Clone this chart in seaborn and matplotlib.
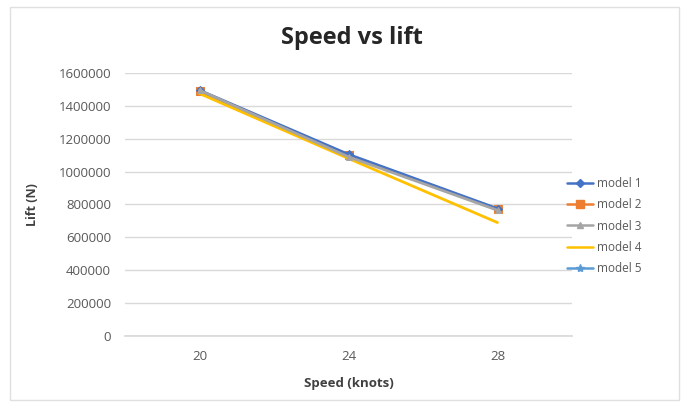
import matplotlib
matplotlib.use("Agg")
import matplotlib.pyplot as plt
import seaborn as sns
import pandas as pd
from matplotlib.lines import Line2D

speeds = ["20", "24", "28"]
models = ["model 1", "model 2", "model 3", "model 4", "model 5"]
model1 = [1495000, 1105000, 775000]
model2 = [1490000, 1100000, 770000]
model3 = [1495000, 1090000, 765000]
model4 = [1475000, 1080000, 690000]
model5 = [1490000, 1100000, 770000]
yticks = [0, 200000, 400000, 600000, 800000, 1000000, 1200000, 1400000, 1600000]

colors = ["#4472C4", "#ED7D31", "#A5A5A5", "#FFC000", "#5B9BD5"]
markers = ["D", "s", "^", "", "*"]
msizes = [4, 6, 5, 0, 6]
draw_order = [4, 1, 0, 3, 2]

rows = []
for name, vals in zip(models, [model1, model2, model3, model4, model5]):
    for i, (s, v) in enumerate(zip(speeds, vals)):
        rows.append({"pos": i, "speed": s, "lift": v, "model": name})
df = pd.DataFrame(rows)

sns.set_theme(style="white")
plt.rcParams["font.family"] = ["Open Sans", "DejaVu Sans"]

fig = plt.figure(figsize=(6.89, 4.04), dpi=100)
ax = fig.add_axes([125/689, (404-336)/404, 447/689, 263/404])

for j, k in enumerate(draw_order):
    name, c, m, ms = models[k], colors[k], markers[k], msizes[k]
    sub = df[df["model"] == name]
    sns.lineplot(data=sub, x="pos", y="lift", color=c, marker=m if m else None,
                 markersize=ms, markeredgecolor=c, linewidth=2.0, ax=ax,
                 legend=False, zorder=3 + j * 0.1)

ax.set_xlim(-0.5, 2.5)
ax.set_ylim(0, 1600000)
ax.set_yticks(yticks)
ax.set_yticklabels([str(t) for t in yticks])
ax.set_xticks(range(len(speeds)))
ax.set_xticklabels(speeds)
ax.yaxis.grid(True, color="#D9D9D9", linewidth=1)
ax.xaxis.grid(False)
for s in ["top", "right"]:
    ax.spines[s].set_visible(False)
ax.spines["left"].set_visible(False)
ax.spines["bottom"].set_color("#D9D9D9")
ax.tick_params(axis="y", length=0, labelsize=9.5, colors="#595959", pad=10)
ax.tick_params(axis="x", length=0, labelsize=9.5, colors="#595959", pad=10)
ax.set_xlabel("Speed (knots)", fontsize=9.5, fontweight="bold", color="#404040", labelpad=10)
ax.set_ylabel("Lift (N)", fontsize=9, fontweight="bold", color="#404040", labelpad=14)
fig.text(352/689, 1 - 38/404, "Speed vs lift", ha="center", va="center",
         fontsize=17, fontweight="bold", color="#262626")

handles = [Line2D([0], [0], color=c, marker=m if m else None, markersize=ms,
                  markeredgecolor=c, linewidth=1.8)
           for c, m, ms in zip(colors, markers, msizes)]
leg = fig.legend(handles, models, loc="center left", bbox_to_anchor=(556/689, 1 - 226/404),
                 frameon=False, fontsize=8.5, handlelength=2.2, handletextpad=0.35,
                 labelspacing=0.7, labelcolor="#595959")

border = plt.Rectangle((10/689, 0.01), 1 - 20/689, 1 - 7/404 - 0.01, transform=fig.transFigure,
                       fill=False, edgecolor="#E0E0E0", linewidth=1)
fig.patches.append(border)

fig.savefig("out.png", dpi=100, facecolor="white")
